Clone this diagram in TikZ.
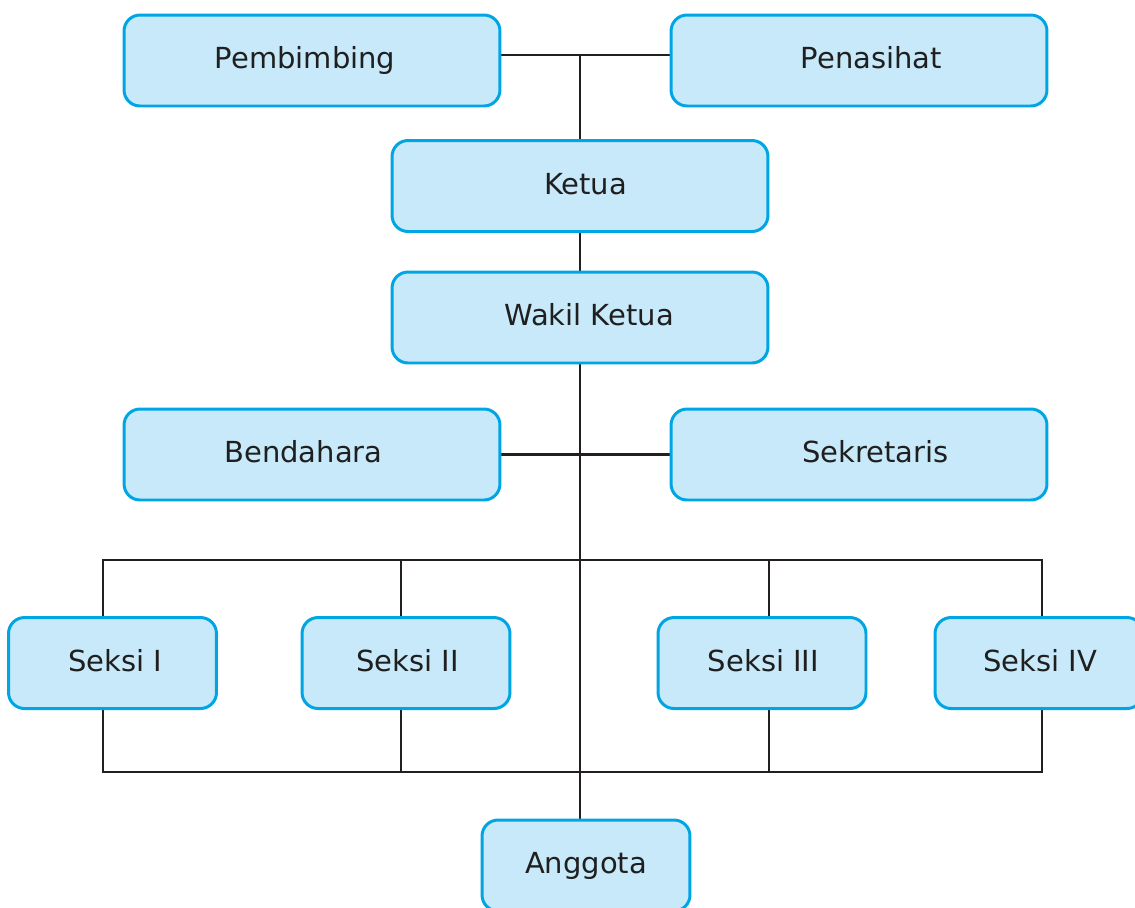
\documentclass[tikz,border=0pt]{standalone}
\usepackage{fontspec}
\setmainfont{DejaVu Sans}
\usetikzlibrary{backgrounds}
\definecolor{boxfill}{RGB}{199,233,249}
\definecolor{boxline}{RGB}{0,165,228}
\definecolor{wire}{RGB}{35,31,32}
\newcommand{\tsh}[2]{\hspace*{#1}#2}
\tikzset{
  orgbox/.style={draw=boxline, fill=boxfill, line width=1.7pt, rounded corners=0.32cm,
    minimum height=1.82cm, inner sep=0pt, text height=0.44cm, text depth=0.12cm,
    font=\fontsize{16.5}{19}\selectfont, text=black!88},
  widebox/.style={orgbox, minimum width=7.52cm},
  smallbox/.style={orgbox, minimum width=4.16cm},
  wireline/.style={draw=wire, line width=1.4pt, line join=miter}
}
\begin{document}
\begin{tikzpicture}[x=0.02cm,y=-0.02cm]
\clip (0,0) rectangle (1135,907);
\node[widebox] (pemb) at (312,60.5) {Pembimbing\hspace*{0.28cm}};
\node[widebox] (pena) at (859,60.5) {\tsh{0.5cm}{Penasihat}};
\node[widebox] (ketua) at (580,186) {\tsh{0.22cm}{Ketua}};
\node[widebox] (wakil) at (580,317.5) {\tsh{0.36cm}{Wakil Ketua}};
\node[widebox] (bend) at (312,454.5) {Bendahara\hspace*{0.34cm}};
\node[widebox] (sekr) at (859,454.5) {\tsh{0.66cm}{Sekretaris}};
\node[smallbox] (s1) at (112.5,663) {\tsh{0.1cm}{Seksi I}};
\node[smallbox] (s2) at (406,663) {\tsh{0.06cm}{Seksi II}};
\node[smallbox] (s3) at (762,663) {\tsh{0.06cm}{Seksi III}};
\node[smallbox] (s4) at (1039,663) {\tsh{0.04cm}{Seksi IV}};
\node[smallbox] (ang) at (586,865.5) {Anggota};
\coordinate (top) at (580,55);
\coordinate (bt1) at (103,560);
\coordinate (bt4) at (1042,560);
\coordinate (bb1) at (103,772);
\coordinate (bb4) at (1042,772);
\coordinate (x2) at (401,0);
\coordinate (x3) at (769,0);
\coordinate (spine) at (580,0);
\begin{scope}[on background layer]
\fill[white] (0,0) rectangle (1135,907);
\draw[wireline] (pemb.east |- top) -- (pena.west |- top);
\draw[wireline] (top) -- (ketua.north);
\draw[wireline] (ketua.south) -- (wakil.north);
\draw[wireline] (wakil.south) -- (spine |- ang.north);
\draw[wireline] (bend.east) -- (sekr.west);
\draw[wireline] (bt1 |- s1.north) -- (bt1) -- (bt4) -- (bt4 |- s4.north);
\draw[wireline] (bb1 |- s1.south) -- (bb1) -- (bb4) -- (bb4 |- s4.south);
\draw[wireline] (x2 |- bt1) -- (x2 |- s2.north);
\draw[wireline] (x3 |- bt1) -- (x3 |- s3.north);
\draw[wireline] (x2 |- bb1) -- (x2 |- s2.south);
\draw[wireline] (x3 |- bb1) -- (x3 |- s3.south);
\end{scope}
\end{tikzpicture}
\end{document}
